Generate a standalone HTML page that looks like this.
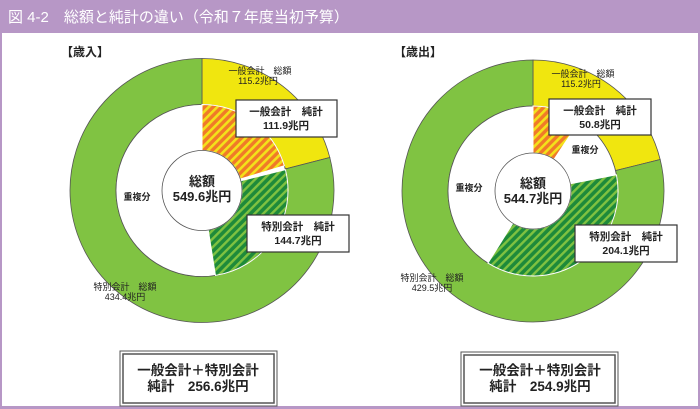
<!DOCTYPE html>
<html><head><meta charset="utf-8"><style>
body{margin:0;width:700px;height:409px;overflow:hidden;background:#fff;font-family:"Liberation Sans","Noto Sans CJK JP",sans-serif}
</style></head><body>
<svg id="s" width="700" height="409" xmlns="http://www.w3.org/2000/svg" style="position:absolute;left:0;top:0">
<defs>
<pattern id="po" width="6" height="6" patternUnits="userSpaceOnUse" patternTransform="rotate(45)">
<rect width="6" height="6" fill="#f07a28"/><rect width="2.6" height="6" fill="#f3e21a"/></pattern>
<pattern id="pg" width="6" height="6" patternUnits="userSpaceOnUse" patternTransform="rotate(45)">
<rect width="6" height="6" fill="#1e8a3a"/><rect width="2.4" height="6" fill="#7fc241"/></pattern>
</defs>
<rect x="0" y="0" width="700" height="409" fill="#b797c6"/>
<rect x="2" y="33" width="696" height="373" fill="#fff"/>
<text x="8" y="22" font-size="15" fill="#fff">図 4-2　総額と純計の違い（令和７年度当初予算）</text>
<g id="charts"></g>
<g font-weight="bold" fill="#222" text-anchor="middle">
<text x="85" y="56" font-size="12">【歳入】</text>
<text x="418" y="56" font-size="12">【歳出】</text>
<g font-size="9" font-weight="normal">
<text x="260" y="74">一般会計　総額</text><text x="258" y="84">115.2兆円</text>
<text x="125" y="290">特別会計　総額</text><text x="125" y="300">434.4兆円</text>
<text x="583" y="77">一般会計　総額</text><text x="581" y="87">115.2兆円</text>
<text x="432" y="281">特別会計　総額</text><text x="432" y="291">429.5兆円</text>
</g>
<g font-size="9"><text x="137" y="200">重複分</text><text x="585" y="153">重複分</text><text x="469" y="191">重複分</text></g>
<rect x="236" y="100" width="101" height="37" fill="#fff" stroke="#333" stroke-width="1.2"/>
<rect x="247" y="215" width="102" height="37" fill="#fff" stroke="#333" stroke-width="1.2"/>
<rect x="549" y="99" width="102" height="36" fill="#fff" stroke="#333" stroke-width="1.2"/>
<rect x="575" y="225" width="102" height="37" fill="#fff" stroke="#333" stroke-width="1.2"/>
<g font-size="10.5">
<text x="286" y="115">一般会計　純計</text><text x="286" y="129">111.9兆円</text>
<text x="298" y="230">特別会計　純計</text><text x="298" y="244">144.7兆円</text>
<text x="600" y="114">一般会計　純計</text><text x="600" y="128">50.8兆円</text>
<text x="626" y="240">特別会計　純計</text><text x="626" y="254">204.1兆円</text>
</g>
<g font-size="13"><text x="202" y="186">総額</text><text x="202" y="201">549.6兆円</text>
<text x="533" y="188">総額</text><text x="533" y="203">544.7兆円</text></g>
<rect x="120" y="351" width="157" height="55" fill="#fff" stroke="#555" stroke-width="1"/>
<rect x="123" y="354" width="151" height="49" fill="none" stroke="#555" stroke-width="1.5"/>
<rect x="461" y="352" width="157" height="54" fill="#fff" stroke="#555" stroke-width="1"/>
<rect x="464" y="355" width="151" height="48" fill="none" stroke="#555" stroke-width="1.5"/>
<g font-size="13.5"><text x="198" y="375">一般会計＋特別会計</text><text x="198" y="391">純計　256.6兆円</text>
<text x="540" y="375">一般会計＋特別会計</text><text x="540" y="391">純計　254.9兆円</text></g>
</g>
</svg>
<script>
function pt(cx,cy,r,a){a=a*Math.PI/180;return [cx+r*Math.sin(a),cy-r*Math.cos(a)];}
function arc(cx,cy,r1,r2,a1,a2){var p1=pt(cx,cy,r2,a1),p2=pt(cx,cy,r2,a2),p3=pt(cx,cy,r1,a2),p4=pt(cx,cy,r1,a1);var l=(a2-a1)>180?1:0;
return "M"+p1+" A"+r2+","+r2+" 0 "+l+" 1 "+p2+" L"+p3+" A"+r1+","+r1+" 0 "+l+" 0 "+p4+"Z";}
var g=document.getElementById('charts'),h='';
function ring(cx,cy,R,r,rc,yel,or,gs,ge){
h+='<path d="'+arc(cx,cy,r,R,0,yel)+'" fill="#f0e60f" stroke="#555" stroke-width="0.8"/>';
h+='<path d="'+arc(cx,cy,r,R,yel,360)+'" fill="#80c342" stroke="#555" stroke-width="0.8"/>';
h+='<circle cx="'+cx+'" cy="'+cy+'" r="'+r+'" fill="#fff" stroke="#555" stroke-width="0.8"/>';
h+='<path d="'+arc(cx,cy,rc,r,0,or)+'" fill="url(#po)" stroke="#fff" stroke-width="1"/>';
h+='<path d="'+arc(cx,cy,rc,r,gs,ge)+'" fill="url(#pg)" stroke="#fff" stroke-width="1"/>';
h+='<circle cx="'+cx+'" cy="'+cy+'" r="'+rc+'" fill="#fff" stroke="#555" stroke-width="0.8"/>';}
ring(202,190.5,132,86,40,75.5,73.3,76,171);
ring(533,191,131,85,38,76.1,33.6,79,212);
g.innerHTML=h;
</script>
</body></html>
